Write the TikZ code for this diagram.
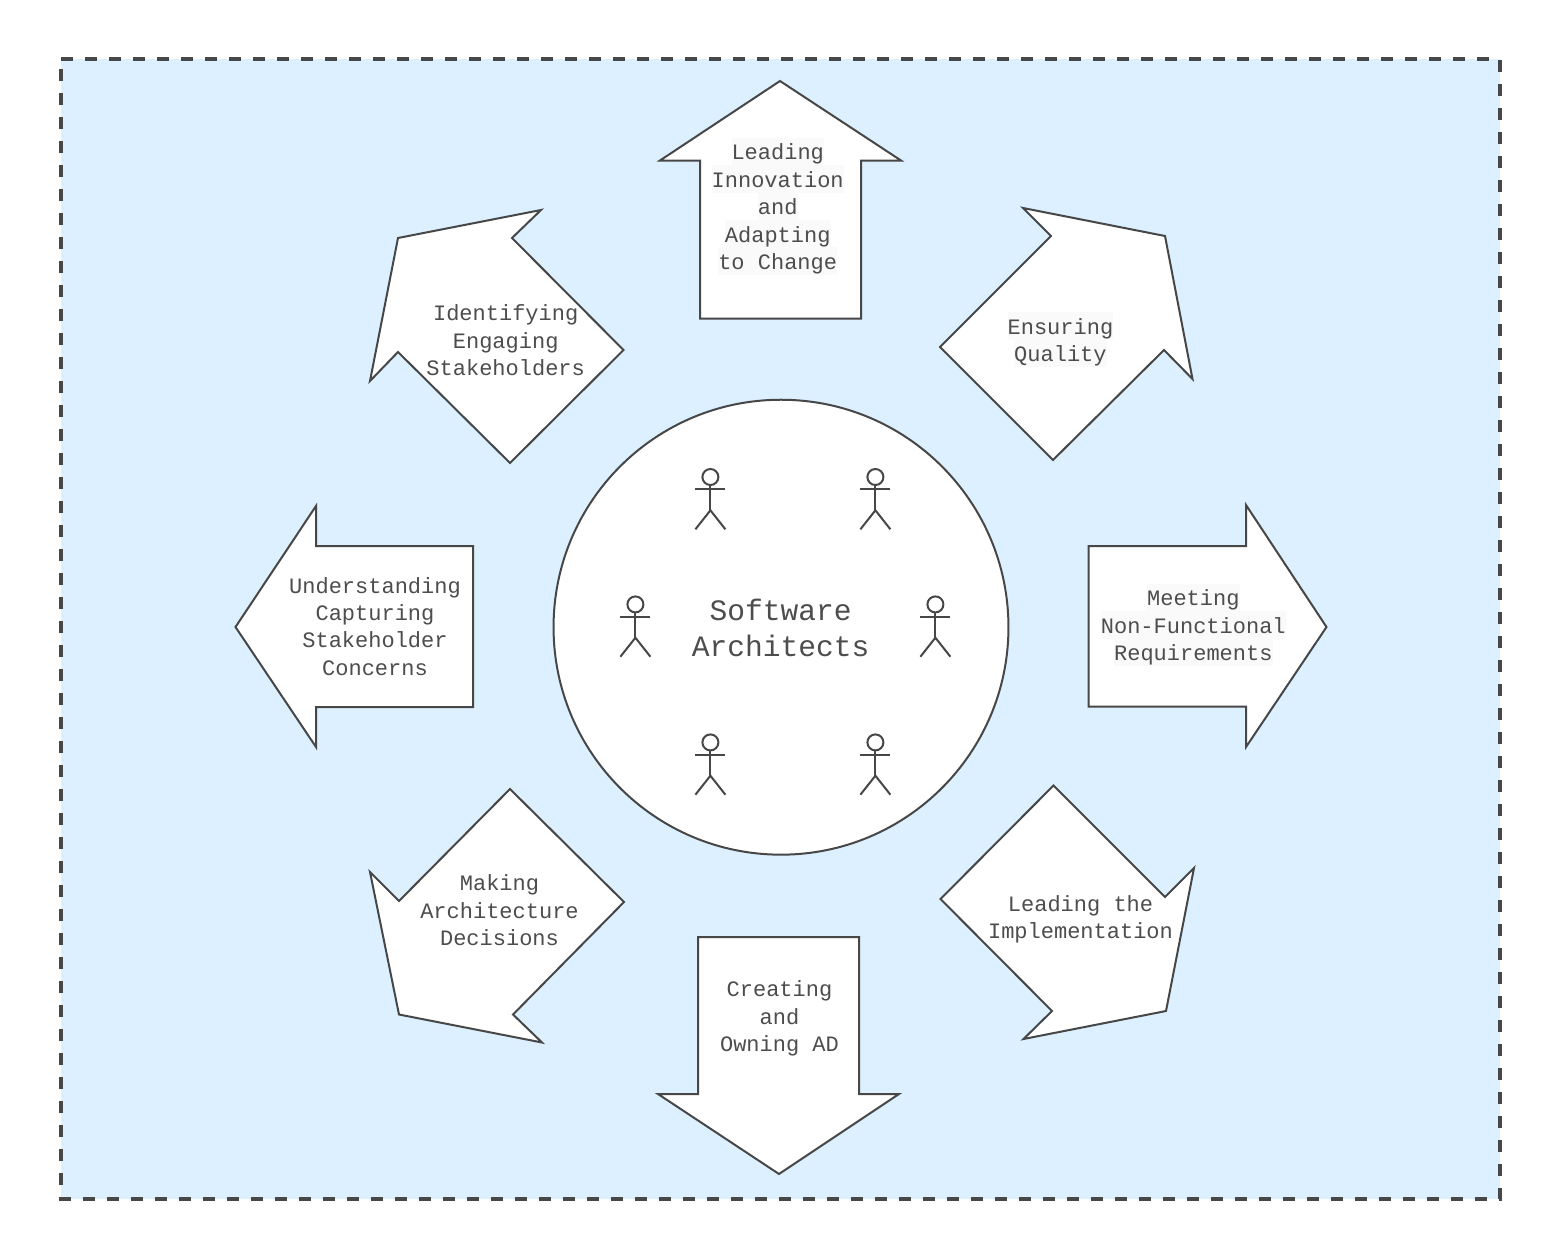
\documentclass[tikz,border=0pt]{standalone}
\usepackage{fontspec}
\setmonofont{Liberation Mono}
\definecolor{bgblue}{HTML}{DCF0FF}
\definecolor{ink}{HTML}{474747}
\definecolor{txt}{HTML}{4D4D4D}
\definecolor{hlc}{HTML}{FAFAFA}
\setlength\fboxsep{0pt}
\newcommand\hl[1]{\colorbox{hlc}{\rule[-4.05pt]{0pt}{20.55pt}#1}}
\newcommand\pl[1]{\rule[-4.05pt]{0pt}{20.55pt}#1}
\tikzset{
  ln/.style={draw=ink,line width=1.5pt,line join=miter},
  arrowshape/.style={ln,fill=white},
  label/.style={align=center,inner sep=0pt,text=txt,font=\ttfamily\fontsize{16.5}{20.55}\selectfont},
  biglabel/.style={align=center,inner sep=0pt,text=txt,font=\ttfamily\fontsize{22.2}{27}\selectfont},
  actorfig/.pic={
    \draw[ln] (0,-12.3) circle (8);
    \draw[ln] (0,-4.3) -- (0,21);
    \draw[ln] (-15,0) -- (15,0);
    \draw[ln] (-15,40) -- (0,21) -- (15,40);
  }
}
\begin{document}
\begin{tikzpicture}[x=0.75pt,y=-0.75pt]
\useasboundingbox (0,0) rectangle (1560,1260);
\fill[white] (0,0) rectangle (1560,1260);
\fill[bgblue] (61,59) rectangle (1500,1199);
\draw[draw=ink,line width=3pt,dash pattern=on 9pt off 9pt] (61,59) -- (1500,59) -- (1500,1199) -- (61,1199) -- cycle;

% arrows
\draw[arrowshape] (780,81) -- (901,160.5) -- (861,160.5) -- (861,318.5) -- (700,318.5) -- (700,160.5) -- (660,160.5) -- cycle;
\draw[arrowshape] (1088.5,546) -- (1246,546) -- (1246,505) -- (1326.5,627) -- (1246,747) -- (1246,706.5) -- (1088.5,706.5) -- cycle;
\draw[arrowshape] (473,546) -- (316,546) -- (316,506) -- (235.5,627) -- (316,747) -- (316,707) -- (473,707) -- cycle;
\draw[arrowshape] (698,937) -- (859,937) -- (859,1094) -- (899,1094) -- (779,1174) -- (658,1094) -- (698,1094) -- cycle;
\draw[arrowshape] (1023,208) -- (1165,236) -- (1192.5,379) -- (1164,350) -- (1053,460) -- (940,347) -- (1051,236) -- cycle;
\draw[arrowshape] (541,210) -- (398,238) -- (370,381) -- (398,352) -- (510,463) -- (623.5,350) -- (512,238) -- cycle;
\draw[arrowshape] (370,872) -- (399,901) -- (510,789) -- (624,902) -- (513,1014.5) -- (542,1042.5) -- (399,1014.5) -- cycle;
\draw[arrowshape] (1194,868) -- (1165,897) -- (1053.5,785.5) -- (940.5,899) -- (1052,1011) -- (1023.5,1039) -- (1166,1011) -- cycle;

% centre
\node[ln,fill=white,circle,minimum size=341.2pt,inner sep=0pt] (hub) at (781,627.2) {};
\node[biglabel] (title) at (780.6,628) {Software\\Architects};
\pic at (710.4,489.3) {actorfig};
\pic at (875.4,489.3) {actorfig};
\pic at (635.4,616.7) {actorfig};
\pic at (935.4,616.7) {actorfig};
\pic at (710.4,754.7) {actorfig};
\pic at (875.4,754.7) {actorfig};

% labels
\node[label] (lead) at (777.7,206.3) {\hl{Leading}\\\hl{Innovation}\\\hl{and}\\\hl{Adapting}\\\hl{to Change}};
\node[label] (ident) at (505.7,339.8) {\pl{Identifying}\\\pl{Engaging}\\\pl{Stakeholders}};
\node[label] (qual) at (1060.4,339.7) {\hl{Ensuring}\\\hl{Quality}};
\node[label] (nfr) at (1193.3,625) {\hl{Meeting}\\\hl{Non-Functional}\\\hl{Requirements}};
\node[label] (under) at (375,625.8) {\pl{Understanding}\\\pl{Capturing}\\\pl{Stakeholder}\\\pl{Concerns}};
\node[label] (decide) at (499.5,909.8) {\pl{Making}\\\pl{Architecture}\\\pl{Decisions}};
\node[label] (impl) at (1080.5,916.7) {\pl{Leading the}\\\pl{Implementation}};
\node[label] (ad) at (779.5,1015.8) {\pl{Creating}\\\pl{and}\\\pl{Owning AD}};
\end{tikzpicture}
\end{document}
